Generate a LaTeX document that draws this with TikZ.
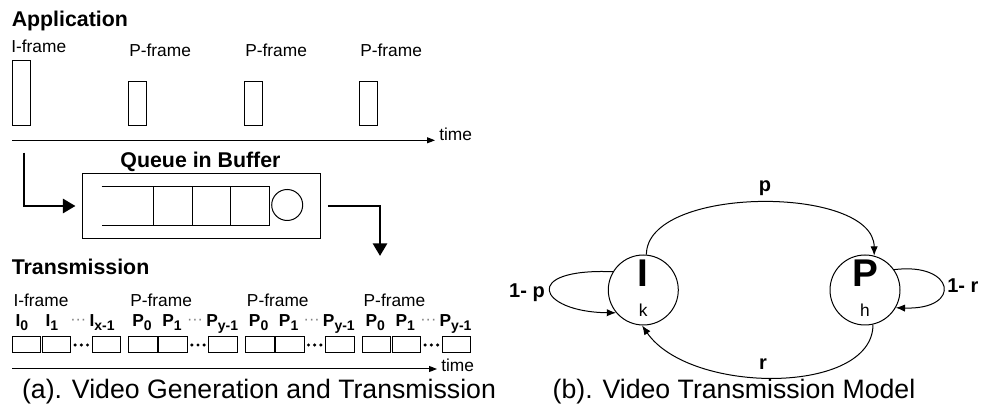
\documentclass[tikz,border=0pt]{standalone}
\usepackage{fontspec}
\setmainfont{Liberation Sans}
\usetikzlibrary{arrows.meta}
\newcommand\sbs[1]{\raisebox{-0.35ex}{\fontsize{10.5}{11}\selectfont #1}}
\begin{document}
\begin{tikzpicture}[x=0.75pt,y=-0.75pt,
  txt/.style={inner sep=0pt, font=\fontsize{13}{15}\selectfont},
  head/.style={inner sep=0pt, font=\fontsize{16}{18}\selectfont\bfseries},
  captxt/.style={inner sep=0pt, font=\fontsize{20}{22}\selectfont},
  sublbl/.style={inner sep=0pt, font=\fontsize{13}{15}\selectfont\bfseries},
  gdots/.style={inner sep=0pt, text=gray, font=\fontsize{12}{14}\selectfont},
  elbl/.style={inner sep=0pt, font=\fontsize{15}{17}\selectfont\bfseries},
  big/.style={inner sep=0pt, font=\fontsize{29}{31}\selectfont\bfseries},
  frm/.style={draw, line width=0.75pt, inner sep=0pt},
  thinline/.style={line width=0.75pt},
  bigarrow/.style={line width=2.2pt, -{Triangle[length=9.5pt,width=10.5pt]}},
  axis/.style={line width=0.75pt, -{Triangle[length=6pt,width=4.5pt]}},
  edge/.style={line width=0.75pt, -{Latex[length=7pt,width=5.5pt]}},
  state/.style={circle, draw, line width=0.75pt, minimum size=52.5pt, inner sep=0pt},
]
\useasboundingbox (0,0) rectangle (1003,416);

% ---------------- Application ----------------
\node[head, anchor=base west] (app) at (11.5,27) {Application};
\node[txt, anchor=base west] (ilab) at (11,53) {I-frame};
\node[txt, anchor=base west] (plab1) at (129,56.5) {P-frame};
\node[txt, anchor=base west] (plab2) at (245,56.5) {P-frame};
\node[txt, anchor=base west] (plab3) at (360,56.5) {P-frame};
\node[frm, minimum width=13.8pt, minimum height=48.75pt] (fI) at (21.5,92.8) {};
\node[frm, minimum width=13.5pt, minimum height=32.7pt] (fP1) at (137,103.5) {};
\node[frm, minimum width=13.5pt, minimum height=32.7pt] (fP2) at (253.5,103.5) {};
\node[frm, minimum width=13.5pt, minimum height=32.7pt] (fP3) at (368,103.5) {};
\node[txt, anchor=base west] (time1) at (439,141) {time};
\coordinate (ax1) at (12.3,140.3);
\draw[axis] (ax1) -- ([xshift=-3pt]ax1 -| time1.west);

% ---------------- Queue ----------------
\node[head, anchor=base] (qlab) at (200.5,168) {Queue in Buffer};
\node[frm, minimum width=179pt, minimum height=49pt] (buf) at (201.35,206) {};
\draw[thinline] (101.7,186.7) -- (269.3,186.7) -- (269.3,225.7) -- (101.7,225.7);
\foreach \xx in {153.7,192.3,230.7}
  \draw[thinline] (\xx,186.7) -- (\xx,225.7);
\node[circle, draw, line width=0.75pt, minimum size=23.25pt, inner sep=0pt] (srv) at (287.2,205) {};
\coordinate (qin) at (24,152.7);
\coordinate (qout) at (380,256);
\draw[bigarrow] (qin) |- ([xshift=-4.5pt]buf.west);
\draw[bigarrow] ([xshift=5pt]buf.east) -| (qout);

% ---------------- Transmission ----------------
\node[head, anchor=base west] (trans) at (11.5,275) {Transmission};
\foreach \g/\F/\L/\S in {0/I-frame/I/x,1/P-frame/P/y,2/P-frame/P/y,3/P-frame/P/y}{
  \pgfmathsetmacro{\s}{12.3+116.7*\g}
  \node[txt, anchor=base west] (fl\g) at (\s+1,307) {\F};
  \node[frm, minimum width=21.4pt, minimum height=12pt] (b\g-a) at (\s+14.25,345) {};
  \node[frm, minimum width=21.4pt, minimum height=12pt] (b\g-b) at (\s+44.25,345) {};
  \node[frm, minimum width=21.4pt, minimum height=12pt] (b\g-c) at (\s+94.25,345) {};
  \foreach \d in {62.8,69,75.2}
    \fill (\s+\d,345) circle[radius=1.3pt];
  \node[sublbl, anchor=base west] (l\g-a) at (\s+3,327) {\L\sbs{0}};
  \node[sublbl, anchor=base west] (l\g-b) at (\s+33,327) {\L\sbs{1}};
  \node[sublbl, anchor=base west] (l\g-c) at (\s+77,327) {\L\sbs{\S-1}};
  \node[gdots, anchor=base] (d\g) at (\s+66,325) {···};
}
\node[txt, anchor=base west] (time2) at (441,372) {time};
\coordinate (ax2) at (12.3,369);
\draw[axis] (ax2) -- ([xshift=-3pt]ax2 -| time2.west);

\node[captxt, anchor=base] (capa) at (259,399) {(a). Video Generation and Transmission};

% ---------------- Markov model ----------------
\node[state] (I) at (643.3,290) {};
\node[state] (P) at (865,290) {};
\node[big, anchor=base] (Ilab) at (643.3,287) {I};
\node[big, anchor=base] (Plab) at (865,287) {P};
\node[txt, anchor=base] (klab) at (643.3,316.7) {k};
\node[txt, anchor=base] (hlab) at (865,316.7) {h};

\draw[edge] (I.85) .. controls (646.4,185) and (874,185) .. (P.75);
\draw[edge] (P.-77) .. controls (873,395) and (690,395) .. (I.-92);
\draw[edge] (I.149) .. controls (520,268) and (538,312) .. (I.220);
\draw[edge] (P.35) .. controls (955,262) and (963,310) .. (P.-30);

\node[elbl, anchor=base] (plb) at (765,192) {p};
\node[elbl, anchor=base] (rlb) at (763,370) {r};
\node[elbl, anchor=base east] (lp) at (545,298) {1- p};
\node[elbl, anchor=base west] (lr) at (947,293) {1- r};

\node[captxt, anchor=base] (capb) at (734,399) {(b). Video Transmission Model};
\end{tikzpicture}
\end{document}
